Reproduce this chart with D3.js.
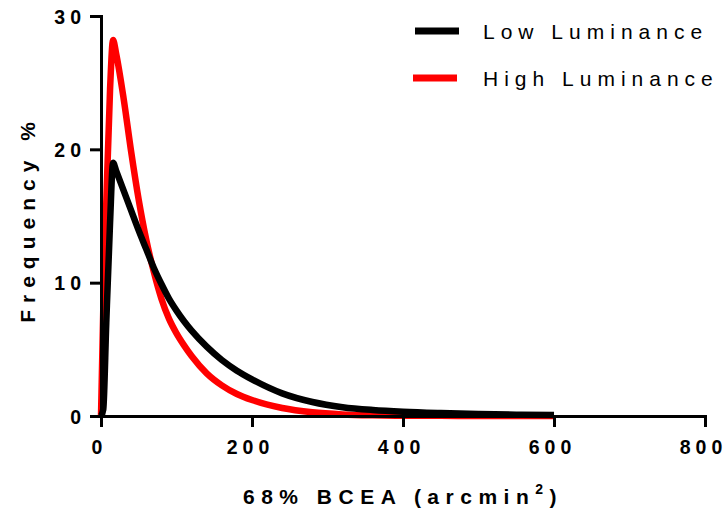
<!DOCTYPE html>
<html>
<head>
<meta charset="utf-8">
<script src="https://cdn.jsdelivr.net/npm/d3@7"></script>
<style>
  html, body { margin: 0; padding: 0; background: #fff; }
  svg { display: block; }
  text { font-family: "Liberation Sans", Arial, sans-serif; }
</style>
</head>
<body>
<svg id="chart" width="726" height="525"></svg>
<script>
// BCEA bin centres (arcmin^2)
const bcea = [0, 3, 7, 12, 16, 20, 30, 40, 50, 60, 70, 80, 90, 100, 110, 120, 140, 160, 180, 200, 240, 280, 320, 360, 400, 450, 500, 550, 600];
// Frequency % for each luminance condition
const lowLuminance  = [0, 0.5, 7, 14.5, 19, 18.4, 16.9, 15.4, 13.9, 12.5, 11.1, 9.9, 8.8, 7.9, 7.1, 6.4, 5.2, 4.2, 3.4, 2.75, 1.7, 1.05, 0.66, 0.45, 0.32, 0.22, 0.15, 0.1, 0.07];
const highLuminance = [0, 8, 16, 24.5, 28.2, 27.2, 23.8, 19.8, 16.2, 13.2, 10.8, 8.8, 7.3, 6.2, 5.3, 4.5, 3.2, 2.3, 1.65, 1.2, 0.6, 0.28, 0.12, 0.05, 0.02, 0.01, 0, 0, 0];

const seriesNames = ["Low Luminance", "High Luminance"];
const seriesColors = ["#000000", "#ff0000"];

const xTicks = [0, 200, 400, 600, 800];
const yTicks = [0, 10, 20, 30];

const svg = d3.select("#chart");

const x = d3.scaleLinear().domain([0, 800]).range([101, 705]);
const y = d3.scaleLinear().domain([0, 30]).range([416, 16]);

const series = [
  { name: seriesNames[0], color: seriesColors[0], values: lowLuminance },
  { name: seriesNames[1], color: seriesColors[1], values: highLuminance }
];

const line = d3.line()
  .x((d, i) => x(bcea[i]))
  .y(d => y(d))
  .curve(d3.curveMonotoneX);

// curves: red first so the black curve sits on top
svg.append("g")
  .selectAll("path")
  .data(series.slice().reverse())
  .join("path")
  .attr("d", d => line(d.values))
  .attr("fill", "none")
  .attr("stroke", d => d.color)
  .attr("stroke-width", 6.5)
  .attr("stroke-linejoin", "round");

// axes
const xAxis = svg.append("g")
  .attr("transform", `translate(0,${y(0)})`)
  .call(d3.axisBottom(x).tickValues(xTicks).tickSize(11).tickSizeOuter(0).tickPadding(13));
const yAxis = svg.append("g")
  .attr("transform", `translate(${x(0)},0)`)
  .call(d3.axisLeft(y).tickValues(yTicks).tickSize(11).tickSizeOuter(0).tickPadding(9));

[xAxis, yAxis].forEach(g => {
  g.select(".domain").attr("stroke", "#000").attr("stroke-width", 3).attr("stroke-linecap", "square");
  g.selectAll(".tick line").attr("stroke", "#000").attr("stroke-width", 3);
  g.selectAll(".tick text")
    .attr("fill", "#000")
    .style("font-family", '"Liberation Sans", Arial, sans-serif')
    .style("font-size", "19.5px")
    .style("font-weight", "bold")
    .style("letter-spacing", "5px");
});
xAxis.selectAll(".tick text").attr("dx", "-2px");
yAxis.selectAll(".tick text").attr("dx", "5px").attr("dy", "0.36em");

// axis titles
const xTitle = svg.append("text")
  .attr("x", 403)
  .attr("y", 504)
  .attr("text-anchor", "middle")
  .style("font-size", "21px")
  .style("font-weight", "bold")
  .style("letter-spacing", "6.5px");
xTitle.append("tspan").text("68% BCEA (arcmin");
xTitle.append("tspan").attr("dy", -10).style("font-size", "14px").text("2");
xTitle.append("tspan").attr("dy", 10).text(")");

svg.append("text")
  .attr("transform", "translate(35,219) rotate(-90)")
  .attr("text-anchor", "middle")
  .style("font-size", "21px")
  .style("font-weight", "bold")
  .style("letter-spacing", "7px")
  .text("Frequency %");

// legend
const legend = svg.append("g");
const legendRows = [
  { name: seriesNames[0], color: seriesColors[0], y: 31, x0: 415 },
  { name: seriesNames[1], color: seriesColors[1], y: 78, x0: 413 }
];
legendRows.forEach(r => {
  legend.append("line")
    .attr("x1", r.x0).attr("x2", r.x0 + 44)
    .attr("y1", r.y).attr("y2", r.y)
    .attr("stroke", r.color).attr("stroke-width", 7);
  legend.append("text")
    .attr("x", 483)
    .attr("y", r.y + 8)
    .style("font-size", "21px")
    .style("letter-spacing", "6px")
    .attr("fill", "#000")
    .text(r.name);
});
</script>
</body>
</html>
